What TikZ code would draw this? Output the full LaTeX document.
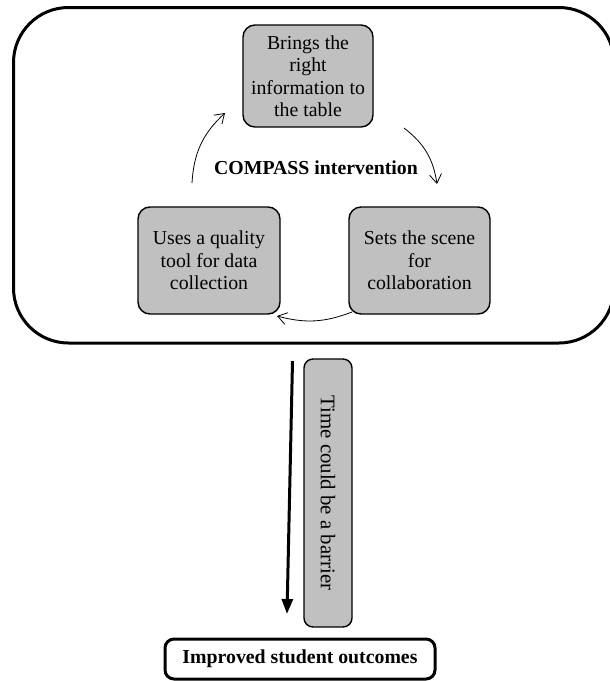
\documentclass[tikz,border=0pt]{standalone}
\usepackage{fontspec}
\setmainfont{Liberation Serif}
\usetikzlibrary{arrows.meta}
\definecolor{boxgray}{RGB}{192,192,192}
\tikzset{
  graybox/.style={draw=black, line width=1.4pt, fill=boxgray, rounded corners=12pt, align=center,
    font=\fontsize{19.8}{22.5}\selectfont, inner sep=0pt},
  thinarrow/.style={line width=0.8pt, -{Straight Barb[length=9pt,width=12pt]}},
}
\begin{document}
\begin{tikzpicture}[x=1pt,y=-1pt]
\useasboundingbox (0,0) rectangle (610,681);
% big outer box
\draw[line width=3pt, rounded corners=55pt] (13.5,7.5) rectangle (614,343);
\node[graybox, minimum width=130pt, minimum height=102pt] (top) at (308,76) {Brings the\\right\\information to\\the table};
\node[graybox, minimum width=142pt, minimum height=107pt] (left) at (209,260.5) {Uses a quality\\tool for data\\collection};
\node[graybox, minimum width=141pt, minimum height=107pt] (right) at (419.5,260.5) {Sets the scene\\for\\collaboration};
\node[font=\fontsize{19.8}{22}\selectfont\bfseries] (title) at (316,168) {COMPASS intervention};
\coordinate (a1s) at (192,183);
\coordinate (a1e) at (225,113);
\coordinate (a2s) at (404,128);
\coordinate (a2e) at (437,184);
\coordinate (a3s) at (352,312);
\coordinate (a3e) at (277,316);
\draw[thinarrow] (a1s) to[bend left=22] (a1e);
\draw[thinarrow] (a2s) to[bend left=22] (a2e);
\draw[thinarrow] (a3s) to[bend left=18] (a3e);
% time barrier
\node[graybox, rotate=-90, minimum width=268pt, minimum height=48pt, rounded corners=9pt,
  font=\fontsize{20.8}{22}\selectfont] (time) at (328,493) {Time could be a barrier};
\coordinate (vs) at (292.5,361);
\coordinate (ve) at (287,614);
\draw[line width=3pt, -{Triangle[length=15pt,width=11pt]}] (vs) -- (ve);
\node[draw=black, line width=3pt, rounded corners=9pt, minimum width=270pt, minimum height=40pt, inner sep=0pt,
  font=\fontsize{19.8}{22}\selectfont\bfseries] (out) at (300,659) {Improved student outcomes};
\end{tikzpicture}
\end{document}
